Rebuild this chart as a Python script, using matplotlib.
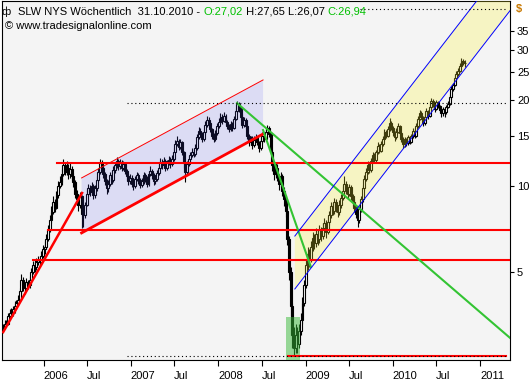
import numpy as np
import pandas as pd
import matplotlib
matplotlib.use("Agg")
from matplotlib import pyplot as plt
import matplotlib.dates as mdates
import matplotlib.transforms as mtransforms

# Weekly SLW candles (USD), Friday closes 08.07.2005 - 29.10.2010
closes = [
    3.2, 3.2, 3.3, 3.3, 3.5, 3.6, 3.6, 3.7, 3.8, 3.9,
    4.0, 4.3, 4.7, 4.5, 4.4, 4.6, 4.5, 4.7, 5.0, 5.3,
    5.2, 5.4, 5.5, 5.4, 5.7, 6.0, 6.1, 6.5, 7.0, 7.6,
    8.1, 8.8, 8.4, 9.3, 10.0, 10.3, 11.0, 11.8, 11.2, 11.6,
    11.0, 11.5, 10.8, 10.3, 9.4, 9.0, 8.6, 9.2, 8.0, 7.9,
    8.6, 9.4, 9.8, 9.5, 10.0, 9.3, 9.8, 10.5, 11.2, 12.0,
    11.6, 11.0, 10.4, 9.8, 10.2, 10.9, 10.5, 11.4, 11.8, 12.2,
    11.7, 12.1, 11.6, 11.9, 11.3, 10.8, 10.4, 10.7, 10.2, 10.0,
    10.6, 10.9, 10.5, 10.1, 10.4, 10.9, 10.6, 10.2, 11.0, 11.3,
    10.9, 10.4, 10.6, 11.1, 11.6, 12.1, 11.8, 12.2, 11.6, 12.0,
    12.3, 11.9, 12.4, 13.2, 14.0, 14.4, 13.7, 14.2, 13.1, 12.0,
    11.2, 11.9, 12.4, 12.8, 13.2, 12.9, 13.6, 14.8, 15.6, 15.2,
    14.6, 15.4, 16.4, 17.0, 16.6, 15.8, 15.0, 14.6, 15.3, 16.2,
    16.8, 17.4, 16.9, 17.6, 16.7, 16.2, 15.8, 16.5, 16.0, 17.2,
    18.3, 19.3, 18.6, 17.5, 16.4, 17.0, 16.2, 15.0, 14.2, 14.6,
    13.9, 14.5, 14.8, 14.2, 13.6, 14.4, 15.0, 14.6, 15.5, 16.0,
    15.2, 13.2, 11.8, 11.0, 11.6, 10.8, 10.2, 10.8, 9.6, 9.0,
    8.2, 6.5, 5.0, 3.8, 3.0, 2.7, 3.0, 2.8, 3.1, 3.4,
    3.9, 4.5, 5.3, 5.8, 5.5, 6.1, 6.6, 6.3, 6.8, 6.5,
    7.0, 6.7, 7.1, 7.4, 6.9, 7.5, 7.9, 8.5, 8.2, 8.8,
    8.4, 8.1, 8.6, 9.1, 9.6, 10.2, 9.7, 9.4, 9.9, 9.2,
    8.8, 8.4, 8.0, 7.6, 8.3, 9.0, 9.8, 10.6, 11.2, 11.8,
    11.4, 12.2, 12.8, 12.3, 13.1, 13.8, 13.3, 14.0, 14.6, 15.4,
    15.0, 15.8, 16.6, 16.0, 15.4, 14.8, 15.5, 16.2, 15.3, 14.6,
    14.0, 14.5, 14.1, 14.8, 14.3, 14.9, 15.6, 15.0, 16.2, 17.2,
    18.0, 17.4, 16.6, 17.5, 18.3, 17.6, 18.9, 19.8, 19.2, 18.6,
    19.6, 19.0, 18.5, 18.0, 18.6, 18.2, 18.9, 19.4, 20.5, 21.8,
    22.5, 23.8, 24.6, 25.3, 26.4, 27.3, 27.02, 26.94,
]
highs = [
    3.3, 3.3, 3.4, 3.4, 3.6, 3.7, 3.75, 3.8, 3.95, 4.0,
    4.15, 4.4, 4.9, 4.8, 4.6, 4.75, 4.7, 4.85, 5.15, 5.45,
    5.5, 5.6, 5.7, 5.7, 5.9, 6.2, 6.4, 6.8, 7.3, 7.9,
    8.5, 9.2, 9.0, 9.6, 10.4, 10.8, 11.5, 12.4, 12.1, 12.2,
    11.9, 12.0, 11.7, 11.1, 10.5, 9.7, 9.3, 9.5, 9.3, 8.3,
    8.8, 9.7, 10.2, 10.1, 10.3, 10.2, 10.1, 10.8, 11.6, 12.4,
    12.3, 11.8, 11.2, 10.6, 10.5, 11.2, 11.1, 11.7, 12.1, 12.6,
    12.4, 12.4, 12.3, 12.2, 12.1, 11.5, 11.0, 11.0, 10.9, 10.4,
    10.8, 11.2, 11.1, 10.7, 10.7, 11.2, 11.1, 10.8, 11.3, 11.7,
    11.5, 11.1, 10.9, 11.4, 11.9, 12.5, 12.4, 12.6, 12.4, 12.3,
    12.7, 12.6, 12.8, 13.6, 14.5, 14.9, 14.6, 14.6, 14.4, 13.3,
    12.3, 12.2, 12.7, 13.2, 13.6, 13.5, 14.0, 15.2, 16.1, 15.9,
    15.4, 15.8, 16.9, 17.6, 17.4, 16.9, 16.0, 15.3, 15.7, 16.6,
    17.3, 18.0, 17.8, 18.2, 17.9, 17.0, 16.5, 16.9, 16.8, 17.6,
    18.8, 19.8, 19.6, 18.9, 17.8, 17.4, 17.3, 16.4, 15.2, 15.0,
    14.9, 14.9, 15.2, 15.0, 14.4, 14.8, 15.4, 15.3, 15.9, 16.4,
    16.2, 15.4, 13.4, 12.1, 12.0, 11.9, 11.0, 11.2, 11.0, 9.9,
    9.3, 8.4, 6.7, 5.2, 3.9, 3.2, 3.3, 3.2, 3.3, 3.6,
    4.1, 4.7, 5.5, 6.1, 6.0, 6.4, 6.9, 6.8, 7.1, 7.0,
    7.3, 7.2, 7.4, 7.7, 7.6, 7.8, 8.2, 8.8, 8.7, 9.1,
    9.0, 8.6, 8.9, 9.4, 10.0, 10.8, 10.4, 9.9, 10.2, 10.1,
    9.4, 9.0, 8.6, 8.1, 8.5, 9.2, 10.1, 10.9, 11.6, 12.2,
    12.1, 12.5, 13.2, 13.0, 13.4, 14.2, 14.0, 14.4, 15.0, 15.8,
    15.7, 16.2, 17.3, 16.9, 16.2, 15.6, 15.9, 16.6, 16.4, 15.5,
    14.8, 14.8, 14.7, 15.1, 15.0, 15.2, 16.0, 15.8, 16.6, 17.6,
    18.5, 18.3, 17.6, 17.9, 18.8, 18.5, 19.3, 20.3, 20.1, 19.5,
    20.0, 19.9, 19.2, 18.7, 18.9, 18.8, 19.2, 19.8, 20.9, 22.3,
    23.0, 24.3, 25.2, 25.9, 27.0, 28.0, 27.8, 27.65,
]
lows = [
    3.1, 3.1, 3.15, 3.2, 3.25, 3.4, 3.45, 3.5, 3.6, 3.7,
    3.8, 3.95, 4.2, 4.3, 4.2, 4.3, 4.35, 4.4, 4.6, 4.9,
    5.0, 5.1, 5.3, 5.2, 5.3, 5.6, 5.8, 6.0, 6.4, 6.9,
    7.4, 8.0, 8.1, 8.3, 9.1, 9.8, 10.1, 10.8, 10.9, 10.9,
    10.6, 10.7, 10.5, 9.9, 9.1, 8.6, 8.2, 8.4, 7.1, 7.2,
    7.7, 8.5, 9.2, 9.2, 9.3, 9.0, 9.1, 9.6, 10.3, 11.0,
    11.3, 10.7, 10.1, 9.4, 9.5, 10.0, 10.2, 10.3, 11.1, 11.6,
    11.4, 11.5, 11.3, 11.4, 11.0, 10.5, 10.1, 10.2, 9.9, 9.7,
    9.8, 10.4, 10.2, 9.8, 9.9, 10.2, 10.3, 9.9, 10.0, 10.8,
    10.6, 10.1, 10.2, 10.4, 10.9, 11.4, 11.5, 11.6, 11.3, 11.4,
    11.8, 11.6, 11.7, 12.2, 13.0, 13.8, 13.4, 13.5, 12.8, 11.6,
    10.3, 11.0, 11.7, 12.2, 12.6, 12.6, 12.7, 13.4, 14.6, 14.9,
    14.2, 14.4, 15.2, 16.1, 16.2, 15.4, 14.6, 14.2, 14.4, 15.1,
    16.0, 16.6, 16.5, 16.7, 16.3, 15.8, 15.4, 15.6, 15.6, 15.8,
    17.0, 18.0, 18.2, 17.1, 16.0, 16.1, 15.8, 14.6, 13.8, 13.9,
    13.5, 13.7, 14.2, 13.9, 13.1, 13.4, 14.1, 14.2, 14.4, 15.2,
    14.8, 12.9, 11.3, 10.5, 10.7, 10.4, 9.7, 9.9, 9.2, 8.5,
    7.8, 6.2, 4.7, 3.5, 2.7, 2.55, 2.6, 2.6, 2.7, 3.0,
    3.3, 3.8, 4.4, 5.1, 5.2, 5.4, 5.9, 6.0, 6.1, 6.2,
    6.3, 6.4, 6.5, 6.9, 6.6, 6.8, 7.3, 7.7, 7.9, 8.0,
    8.1, 7.8, 7.9, 8.4, 8.9, 9.4, 9.4, 9.0, 9.2, 8.9,
    8.5, 8.1, 7.7, 7.2, 7.4, 8.1, 8.8, 9.6, 10.4, 11.0,
    11.1, 11.2, 12.0, 12.0, 12.1, 12.9, 13.0, 13.1, 13.8, 14.4,
    14.7, 14.8, 15.6, 15.7, 15.0, 14.4, 14.6, 15.3, 15.0, 14.2,
    13.6, 13.7, 13.8, 13.9, 14.0, 14.1, 14.7, 14.7, 14.8, 16.0,
    17.0, 17.1, 16.2, 16.4, 17.3, 17.2, 17.4, 18.7, 18.9, 18.2,
    18.4, 18.7, 18.1, 17.4, 17.6, 17.5, 17.9, 18.7, 19.2, 20.3,
    21.5, 22.3, 23.5, 24.3, 25.1, 26.2, 26.6, 26.07,
]
dates = pd.date_range("2005-07-08", periods=len(closes), freq="7D")
opens = [closes[0]] + closes[:-1]   # weekly open = previous close

# Drawing objects (date, price)
trend_dates = ["2005-07-16", "2006-06-11"]
trend_prices = [3.08, 9.45]

# lavender channel: left edge, right edge; bottom / top prices
chan_dates = ["2006-06-09", "2008-07-07"]
chan_low = [6.85, 15.2]
chan_high = [10.67, 23.5]

support_starts = ["2006-02-26", "2006-01-20", "2005-11-18"]
support_prices = [12.0, 7.0, 5.5]

green1_dates = ["2008-03-20", "2011-05-06"]
green1_prices = [19.5, 2.94]
green2_dates = ["2008-07-07", "2009-01-23"]
green2_prices = [15.7, 5.21]

# yellow up channel
up_dates = ["2008-11-17", "2011-06-30"]
up_low = [4.36, 47.1]
up_high = [6.68, 72.1]

box_dates = ["2008-10-13", "2008-12-07"]
box_prices = [2.4, 3.48]

dot_lines = [("2006-12-18", "2011-04-19", 19.5),
             ("2009-08-17", "2011-04-19", 41.6)]
low_dots = ("2006-12-18", "2011-04-19", 2.54)
low_line = ("2008-10-19", "2011-04-19", 2.54)

y_ticks = [5, 10, 15, 20, 25, 30, 35]
x_ticks = ["2006-01-01", "2006-07-01", "2007-01-01", "2007-07-01", "2008-01-01",
           "2008-07-01", "2009-01-01", "2009-07-01", "2010-01-01", "2010-07-01",
           "2011-01-01"]
x_labels = ["2006", "Jul", "2007", "Jul", "2008", "Jul", "2009", "Jul", "2010", "Jul", "2011"]


def d(lst):
    return mdates.date2num(pd.to_datetime(lst))


plt.rcParams['font.family'] = ['Liberation Sans', 'DejaVu Sans']
plt.rcParams['font.size'] = 8

fig = plt.figure(figsize=(5.32, 3.8), dpi=100)
ax = fig.add_axes([1.5 / 532, 20 / 380, 508.5 / 532, 359 / 380])
ax.set_facecolor('#f4f4f4')
ax.set_yscale('log')

xmin = d(["2005-07-09"])[0]
xmax = d(["2011-05-06"])[0]

# Candles
x = d(dates)
o = np.array(opens)
c = np.array(closes)
ax.vlines(x, lows, highs, color='black', lw=0.8, zorder=2)
face = ['white' if cc >= oo else 'black' for oo, cc in zip(o, c)]
ax.bar(x, c - o, bottom=o, width=8, color=face, edgecolor='black', lw=0.8, zorder=3)

# Channels and box (translucent, drawn over the candles)
cd = d(chan_dates)
ax.fill([cd[0], cd[0], cd[1], cd[1]], [chan_low[0], chan_high[0], chan_high[1], chan_low[1]],
        color='#5454fa', alpha=0.15, lw=0, zorder=4)
ud = d(up_dates)
ax.fill([ud[0], ud[0], ud[1], ud[1]], [up_low[0], up_high[0], up_high[1], up_low[1]],
        color='#fff434', alpha=0.25, lw=0, zorder=4)
bd = d(box_dates)
ax.fill([bd[0], bd[0], bd[1], bd[1]], [box_prices[0], box_prices[1], box_prices[1], box_prices[0]],
        color='#38ba38', alpha=0.5, lw=0, zorder=4)

# Horizontal levels
ax.plot(d(low_line[:2]), [low_line[2]] * 2, color='red', lw=1.5, zorder=5)
ax.plot(d(low_dots[:2]), [low_dots[2]] * 2, color='black', lw=0.8, ls=(0, (1, 2.5)), zorder=6)
for s, e, p in dot_lines:
    ax.plot(d([s, e]), [p, p], color='black', lw=0.8, ls=(0, (1, 2.5)), zorder=6)
for s, p in zip(support_starts, support_prices):
    ax.plot([d([s])[0], xmax], [p, p], color='red', lw=1.5, zorder=5)

# Trend lines
ax.plot(d(trend_dates), trend_prices, color='red', lw=1.8, zorder=5)
ax.plot(cd, chan_low, color='red', lw=2.0, zorder=5)
ax.plot(cd, chan_high, color='red', lw=0.7, zorder=5)
ax.plot(d(green1_dates), green1_prices, color='#33c433', lw=1.5, zorder=5)
ax.plot(d(green2_dates), green2_prices, color='#33c433', lw=1.5, zorder=5)
ax.plot(ud, up_high, color='#0000ff', lw=0.7, zorder=5)
ax.plot(ud, up_low, color='#0000ff', lw=0.7, zorder=5)

# Axes
ax.set_xlim(xmin, xmax)
ax.set_ylim(2.46, 44.4)
ax.yaxis.tick_right()
ax.set_yticks(y_ticks)
ax.set_yticklabels([str(v) for v in y_ticks])
ax.yaxis.set_minor_locator(matplotlib.ticker.NullLocator())
ax.set_xticks(d(x_ticks))
ax.set_xticklabels(x_labels)
for lbl in ax.get_xticklabels():
    lbl.set_horizontalalignment('left')
ax.tick_params(axis='y', length=3, width=0.8, pad=2, labelsize=8)
ax.tick_params(axis='x', length=4, width=0.8, pad=4, labelsize=8)
for sp in ax.spines.values():
    sp.set_linewidth(0.8)

trans = mtransforms.blended_transform_factory(ax.transAxes, ax.transData)
ax.text(1.012, 41.6, "$", transform=trans, color='#c87800', ha='left', va='center', fontsize=8,
        fontweight='bold')

# Header
fig.text(2 / 532, 1 - 15 / 380, "ф", fontsize=8, va='baseline')
t1 = fig.text(18 / 532, 1 - 15 / 380, "SLW NYS Wöchentlich  31.10.2010 - ", va='baseline')
t2 = ax.annotate("O:27,02", xy=(1, 0), xycoords=t1, va='bottom', color='#00c000', annotation_clip=False)
t3 = ax.annotate(" H:27,65 L:26,07 ", xy=(1, 0), xycoords=t2, va='bottom', annotation_clip=False)
t4 = ax.annotate("C:26,94", xy=(1, 0), xycoords=t3, va='bottom', color='#00c000', annotation_clip=False)
fig.text(5 / 532, 1 - 29 / 380, "© www.tradesignalonline.com", va='baseline')

fig.savefig("out.png", dpi=100, facecolor='white')
